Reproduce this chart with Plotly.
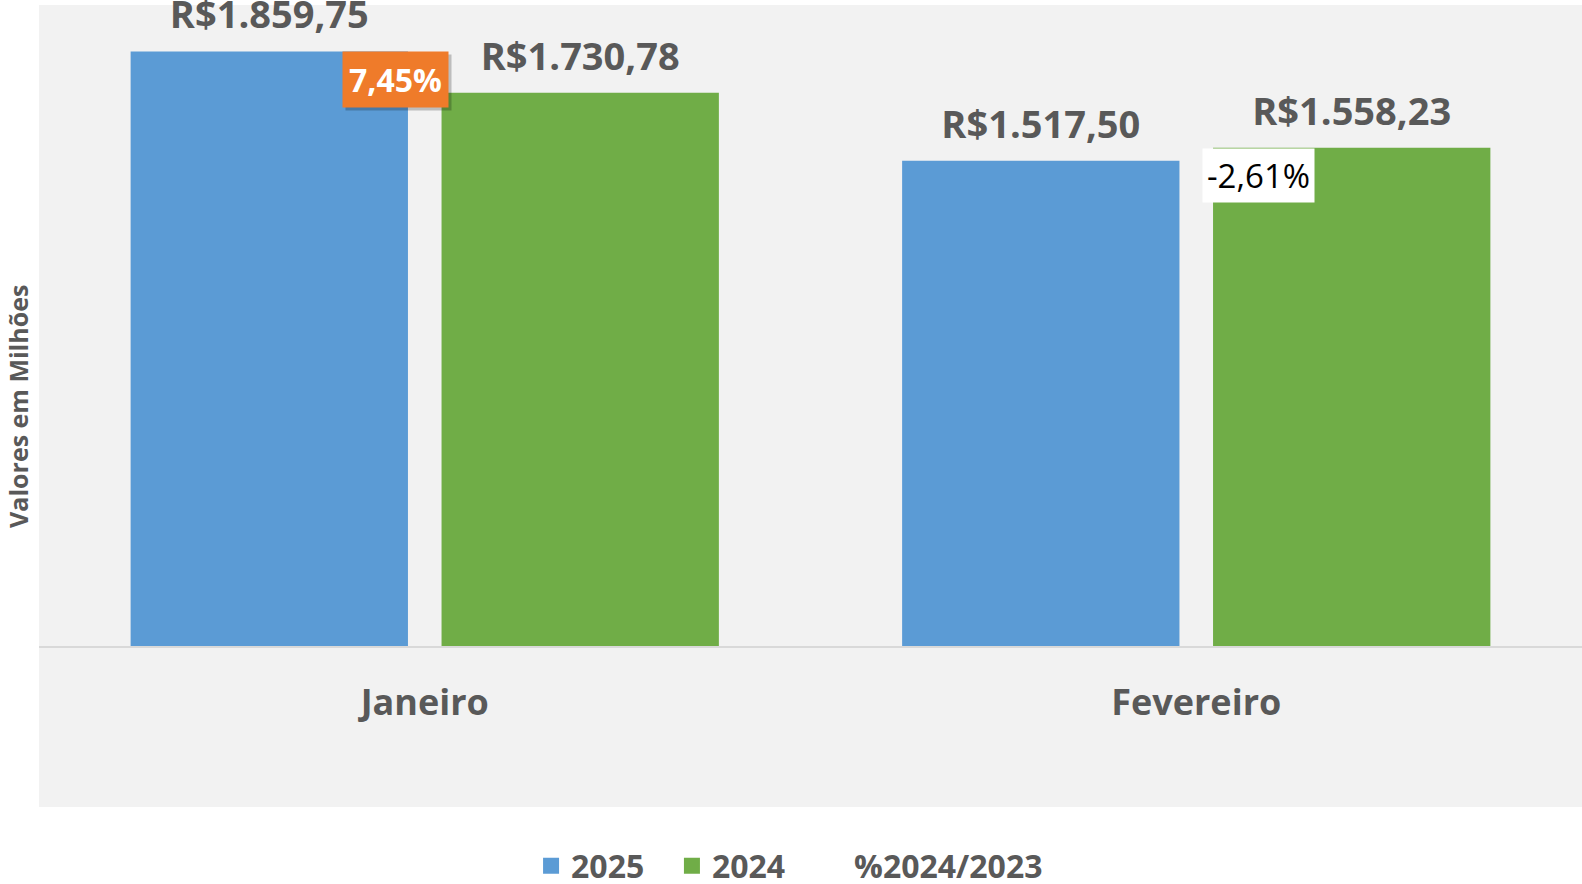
import plotly.graph_objects as go

# data
meses = ['Janeiro', 'Fevereiro']
valores_2025 = [1859.75, 1517.50]
valores_2024 = [1730.78, 1558.23]
pct_var = [7.45, -2.61]

cinza = '#595959'
fonte = 'Open Sans'
azul = '#5b9bd5'
verde = '#70ad47'

fig = go.Figure()

series = [('2025', valores_2025, azul, 'a'), ('2024', valores_2024, verde, 'b')]
for nome, vals, cor, grp in series:
    fig.add_trace(go.Bar(
        name=nome, x=meses, y=vals, offsetgroup=grp, showlegend=False,
        marker=dict(color=cor, line=dict(width=0)),
    ))
    # value labels (scatter text so the gap above the bar can be tuned)
    fig.add_trace(go.Scatter(
        x=meses, y=vals, mode='markers+text', offsetgroup=grp,
        text=['R$' + f'{v:,.2f}'.replace(',', 'X').replace('.', ',').replace('X', '.')
              for v in vals],
        textposition='top center', cliponaxis=False, showlegend=False,
        marker=dict(size=20, color='rgba(0,0,0,0)'), hoverinfo='skip',
        textfont=dict(family=fonte, size=38, color=cinza, weight='bold'),
    ))

# legend entries, one legend each so the spacing can match
entradas = [('2025', azul, 'a', 'legend'), ('2024', verde, 'b', 'legend2'),
            ('%2024/2023', 'rgba(0,0,0,0)', 'a', 'legend3')]
for nome, cor, grp, leg in entradas:
    fig.add_trace(go.Scatter(
        name=nome, x=[meses[0]], y=[None], mode='markers', offsetgroup=grp,
        legend=leg, marker=dict(symbol='square', size=20, color=cor),
    ))

# percent labels
topo = [max(a, b) for a, b in zip(valores_2025, valores_2024)]
estilos = [
    dict(bg='#ef7b2a', fc='white', w='bold', xshift=-29, size=32),
    dict(bg='white', fc='black', w='normal', xshift=62, size=33),
]
for mes, y, p, st in zip(meses, topo, pct_var, estilos):
    txt = f'{p:.2f}'.replace('.', ',') + '%'
    if p > 0:
        # soft shadow behind the orange box
        fig.add_annotation(x=mes, y=y, yanchor='top', xanchor='center',
                           xshift=st['xshift'] + 3, yshift=-3, text=txt,
                           showarrow=False, bgcolor='rgba(0,0,0,0.22)',
                           borderpad=6,
                           font=dict(family=fonte, size=st['size'],
                                     color='rgba(0,0,0,0)', weight=st['w']))
    fig.add_annotation(x=mes, y=y, yanchor='top', xanchor='center',
                       xshift=st['xshift'], text=txt, showarrow=False,
                       bgcolor=st['bg'], borderpad=6 if p > 0 else 4,
                       font=dict(family=fonte, size=st['size'],
                                 color=st['fc'], weight=st['w']))

# y title, centred on the whole gray area
fig.add_annotation(xref='paper', yref='paper', x=-0.0136, y=0.373,
                   xanchor='center', yanchor='middle',
                   text='Valores em Milhões', textangle=-90, showarrow=False,
                   font=dict(family=fonte, size=25, color=cinza, weight='bold'))

# gray area that also covers the category labels
fig.add_shape(type='rect', xref='paper', yref='paper', x0=0, x1=1,
              y0=-0.251, y1=1, fillcolor='#f2f2f2', line_width=0,
              layer='below')

leg_base = dict(orientation='h', xanchor='left', y=-0.343, yanchor='middle',
                itemsizing='trace', bgcolor='rgba(0,0,0,0)',
                font=dict(family=fonte, size=32, color=cinza, weight='bold'))

fig.update_layout(
    width=1582, height=884,
    margin=dict(l=39, r=0, t=5, b=238, autoexpand=False),
    paper_bgcolor='white', plot_bgcolor='#f2f2f2',
    barmode='group', bargap=0.194, bargroupgap=0.108,
    scattermode='group', scattergap=0.194,
    font=dict(family=fonte, color=cinza),
    legend=dict(leg_base, x=0.3189),
    legend2=dict(leg_base, x=0.4102),
    legend3=dict(leg_base, x=0.5023),
)
fig.update_xaxes(
    automargin=False,
    showline=True, linecolor='#d9d9d9', linewidth=2,
    ticks='outside', ticklen=24, tickcolor='rgba(0,0,0,0)',
    tickfont=dict(family=fonte, size=36, color=cinza, weight='bold'),
)
fig.update_yaxes(
    automargin=False,
    range=[0, 2005], showgrid=False, zeroline=False, showticklabels=False,
)

fig.write_html('out.html', config={'displayModeBar': False},
               post_script="document.body.style.margin='0px';")
